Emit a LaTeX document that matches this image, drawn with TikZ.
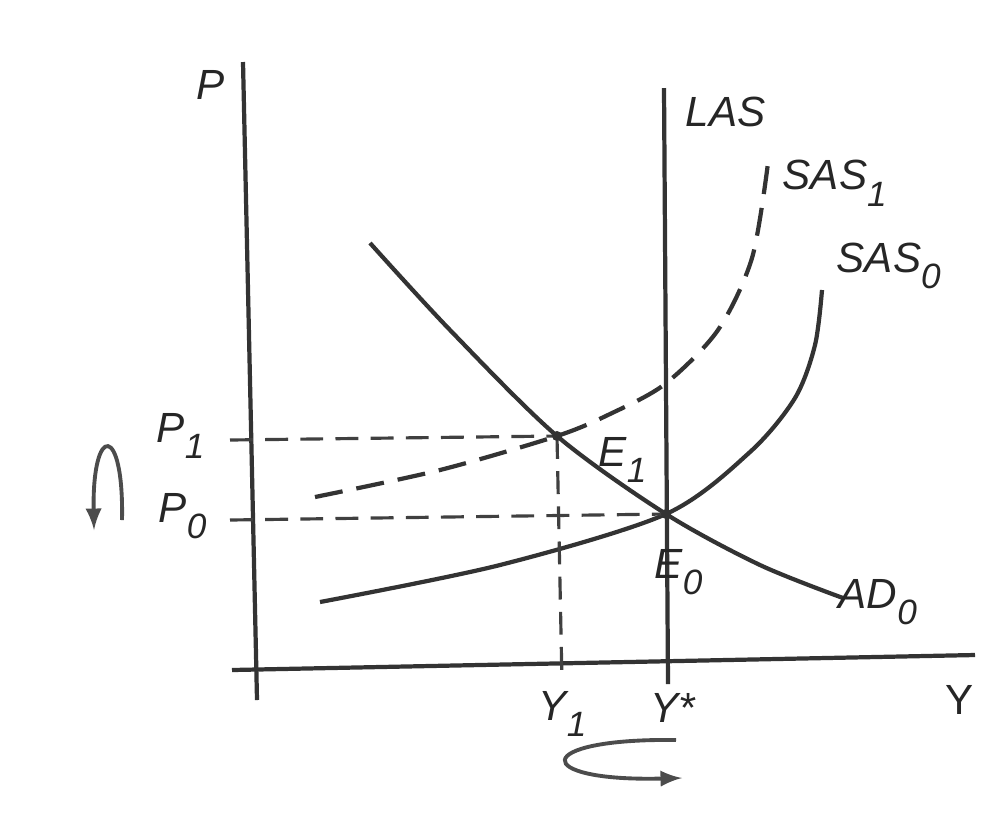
\documentclass[tikz,border=0pt]{standalone}
\usepackage{fontspec}
\setmainfont{Liberation Sans}
\newcommand{\lowsub}[1]{\raisebox{-0.75ex}{\normalsize #1}}
\usetikzlibrary{calc}

\begin{document}
\begin{tikzpicture}[x=0.01cm, y=-0.01cm, font=\large\itshape,
    curve/.style={line width=1.2pt, black!80},
    guide/.style={line width=0.9pt, black!75, dash pattern=on 6.5pt off 3.5pt},
    lbl/.style={inner sep=0pt, anchor=west, text=black!85},
    spin/.style={line width=1.1pt, black!70, ->, >=latex}]
  \useasboundingbox (0,0) rectangle (994,814);
  % axes (slightly tilted, as in the scan)
  \coordinate (Ptop) at (243,62);
  \coordinate (Pbot) at (257,700);
  \coordinate (Yleft) at (232,670);
  \coordinate (Yright) at (975,655);
  \draw[curve] (Ptop) -- (Pbot);
  \draw[curve] (Yleft) -- (Yright);
  % equilibria
  \coordinate (E1) at (557,436);
  \coordinate (E0) at (666,514);
  % long-run supply, vertical at Y*
  \coordinate (LAStop) at (664,88);
  \coordinate (LASbot) at (668,684);
  \draw[curve] (LAStop) -- (LASbot);
  % aggregate demand
  \draw[curve] plot[smooth] coordinates {(370,243) (450,330) (E1) (E0) (760,565) (843,598)};
  % short-run supply, before and after the shift
  \draw[curve] plot[smooth] coordinates {(320,602) (500,565) (E0) (750,452) (795,398) (815,345) (822,290)};
  \draw[curve, dash pattern=on 8pt off 4pt] plot[smooth] coordinates {(315,497) (440,470) (E1) (610,414) (665,384) (718,330) (752,258) (768,163)};
  % guide lines to the axes
  \draw[guide] (230,440) -- (E1);
  \draw[guide] (230,520) -- (E0);
  \draw[guide] (E1) -- (562,682);
  \fill[black!80] (E1) circle (5);
  \fill[black!80] (E0) circle (5);
  % labels
  \node[lbl] (lP) at (196,85) {P};
  \node[lbl] (lLAS) at (685,112) {LAS};
  \node[lbl] (lSAS1) at (782,183) {SAS\lowsub{1}};
  \node[lbl] (lSAS0) at (836,266) {SAS\lowsub{0}};
  \node[lbl] (lAD0) at (838,602) {AD\lowsub{0}};
  \node[lbl] (lE1) at (598,460) {E\lowsub{1}};
  \node[lbl] (lE0) at (654,572) {E\lowsub{0}};
  \node[lbl] (lP1) at (156,436) {P\lowsub{1}};
  \node[lbl] (lP0) at (158,516) {P\lowsub{0}};
  \node[lbl] (lY1) at (538,714) {Y\lowsub{1}};
  \node[lbl] (lYs) at (650,708) {Y*};
  \node[lbl] (lY) at (945,700) {\upshape Y};
  % turning arrows
  \coordinate (spinA) at (122,520);
  \coordinate (spinB) at (94,530);
  \draw[spin] (spinA) .. controls (124,423) and (92,423) .. (spinB);
  \coordinate (spinC) at (676,740);
  \coordinate (spinD) at (682,778);
  \draw[spin] (spinC) .. controls (530,738) and (530,782) .. (spinD);
\end{tikzpicture}
\end{document}
